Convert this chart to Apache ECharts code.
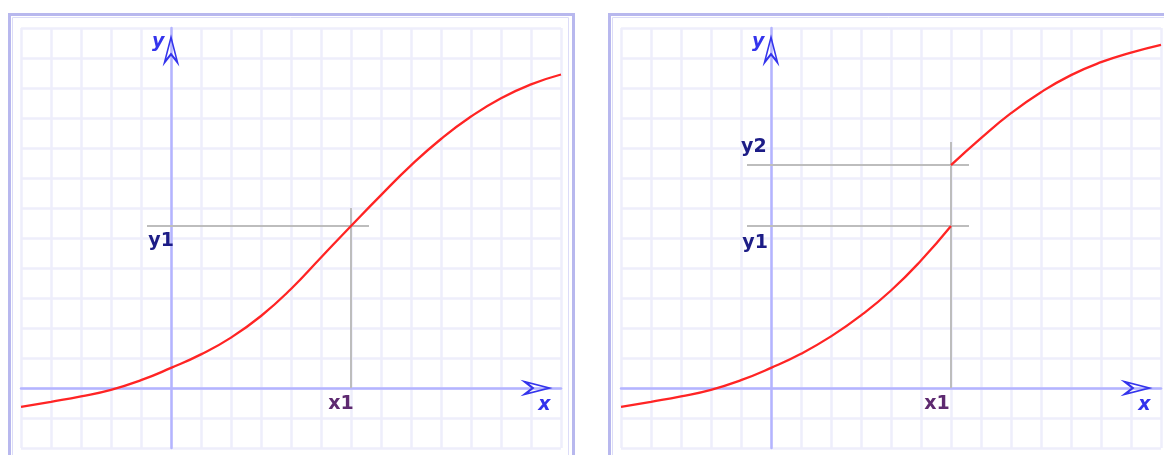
<!DOCTYPE html>
<html>
<head>
<meta charset="utf-8">
<script src="https://cdn.jsdelivr.net/npm/echarts@6/dist/echarts.min.js"></script>
<style>
  html, body { margin: 0; padding: 0; background: #fff; }
  #chart { width: 1164px; height: 455px; }
</style>
</head>
<body>
<div id="chart"></div>
<script>
// x positions shared by the curves (grid units)
var xsLeft = [-5, -4, -3, -2, -1, 0, 1, 2, 3, 4, 5, 6, 7, 8, 9, 10, 11, 12, 13];
var ysLeft = [-0.63, -0.46, -0.28, -0.06, 0.26, 0.67, 1.12, 1.68, 2.4, 3.3, 4.35, 5.4, 6.43, 7.42, 8.3, 9.05, 9.66, 10.12, 10.45];

// right picture: curve breaks at x1
var xsRightLow = [-5, -4, -3, -2, -1, 0, 1, 2, 3, 4, 5, 6];
var ysRightLow = [-0.63, -0.46, -0.28, -0.06, 0.26, 0.67, 1.14, 1.72, 2.42, 3.25, 4.25, 5.4];
var xsRightHigh = [6, 7, 8, 9, 10, 11, 12, 13];
var ysRightHigh = [7.43, 8.33, 9.16, 9.86, 10.43, 10.86, 11.18, 11.44];

var x1 = 6;
var y1 = 5.4;
var y2 = 7.43;
var guideFrom = -0.8;
var guideTo = 6.6;

function pairs(xs, ys) {
  var out = [];
  for (var i = 0; i < xs.length; i++) out.push([xs[i], ys[i]]);
  return out;
}

var arrowUp = 'path://M6,0 L12,24 L6,16 L0,24 Z';
var axisBlue = '#3434ec';

function axisX(idx) {
  return {
    gridIndex: idx, type: 'value', min: -5, max: 13, interval: 1,
    axisLine: { onZero: true, lineStyle: { color: '#b4b4ff', width: 2.5 } },
    axisTick: { show: false }, axisLabel: { show: false },
    splitLine: { show: true, lineStyle: { color: '#eeeefb', width: 2.5 } }
  };
}
function axisY(idx) {
  return {
    gridIndex: idx, type: 'value', min: -2, max: 12, interval: 1,
    axisLine: { onZero: true, lineStyle: { color: '#b4b4ff', width: 2.5 } },
    axisTick: { show: false }, axisLabel: { show: false },
    splitLine: { show: true, lineStyle: { color: '#eeeefb', width: 2.5 } }
  };
}

function textPoint(coord, text, color, size, italic) {
  return {
    coord: coord, symbol: 'circle', symbolSize: 0,
    label: {
      show: true, position: 'inside', formatter: text, color: color,
      fontSize: size, fontFamily: 'DejaVu Sans', fontWeight: 'bold',
      fontStyle: italic ? 'italic' : 'normal'
    }
  };
}
function arrowPoint(coord, rot) {
  return {
    coord: coord, symbol: arrowUp, symbolSize: [13, 25], symbolRotate: rot,
    itemStyle: { color: 'rgba(255,255,255,0)', borderColor: axisBlue, borderWidth: 2 },
    label: { show: false }
  };
}
function guide(a, b) {
  return [{ coord: a }, { coord: b }];
}

var lineStyleRed = { color: '#ff2424', width: 2.3 };
var guideStyle = { color: '#bdbdbd', width: 2, type: 'solid' };

var navy = '#1c1c86';
var purple = '#5e2a70';

var myChart = echarts.init(document.getElementById('chart'));
var option = {
  animation: false,
  grid: [
    { left: 21, top: 28, width: 540, height: 420 },
    { left: 621, top: 28, width: 540, height: 420 }
  ],
  xAxis: [axisX(0), axisX(1)],
  yAxis: [axisY(0), axisY(1)],
  graphic: [
    { type: 'rect', shape: { x: 9.5, y: 14.5, width: 564, height: 470 }, style: { fill: 'none', stroke: '#b8b8ee', lineWidth: 3 }, z: -1 },
    { type: 'rect', shape: { x: 12.5, y: 17.5, width: 556, height: 470 }, style: { fill: 'none', stroke: '#dcdcf8', lineWidth: 1 }, z: -1 },
    { type: 'rect', shape: { x: 609.5, y: 14.5, width: 564, height: 470 }, style: { fill: 'none', stroke: '#b8b8ee', lineWidth: 3 }, z: -1 },
    { type: 'rect', shape: { x: 612.5, y: 17.5, width: 556, height: 470 }, style: { fill: 'none', stroke: '#dcdcf8', lineWidth: 1 }, z: -1 }
  ],
  series: [
    {
      type: 'line', xAxisIndex: 0, yAxisIndex: 0, data: pairs(xsLeft, ysLeft),
      smooth: true, showSymbol: false, lineStyle: lineStyleRed, z: 5,
      markLine: {
        silent: true, symbol: 'none', label: { show: false }, lineStyle: guideStyle,
        data: [guide([guideFrom, y1], [guideTo, y1]), guide([x1, 0], [x1, 6.0])]
      },
      markPoint: {
        silent: true,
        data: [
          textPoint([-0.33, 4.9], 'y1', navy, 19),
          textPoint([5.67, -0.55], 'x1', purple, 19),
          textPoint([-0.43, 11.52], 'y', axisBlue, 19, true),
          textPoint([12.45, -0.57], 'x', axisBlue, 19, true),
          arrowPoint([0, 11.27], 0),
          arrowPoint([12.2, 0], -90)
        ]
      }
    },
    {
      type: 'line', xAxisIndex: 1, yAxisIndex: 1, data: pairs(xsRightLow, ysRightLow),
      smooth: true, showSymbol: false, lineStyle: lineStyleRed, z: 5,
      markLine: {
        silent: true, symbol: 'none', label: { show: false }, lineStyle: guideStyle,
        data: [guide([guideFrom, y1], [guideTo, y1]), guide([guideFrom, y2], [guideTo, y2]), guide([x1, 0], [x1, 8.2])]
      },
      markPoint: {
        silent: true,
        data: [
          textPoint([-0.53, 4.83], 'y1', navy, 19),
          textPoint([-0.57, 8.03], 'y2', navy, 19),
          textPoint([5.53, -0.52], 'x1', purple, 19),
          textPoint([-0.43, 11.52], 'y', axisBlue, 19, true),
          textPoint([12.45, -0.57], 'x', axisBlue, 19, true),
          arrowPoint([0, 11.27], 0),
          arrowPoint([12.2, 0], -90)
        ]
      }
    },
    {
      type: 'line', xAxisIndex: 1, yAxisIndex: 1, data: pairs(xsRightHigh, ysRightHigh),
      smooth: true, showSymbol: false, lineStyle: lineStyleRed, z: 5
    }
  ]
};
myChart.setOption(option);
</script>
</body>
</html>
